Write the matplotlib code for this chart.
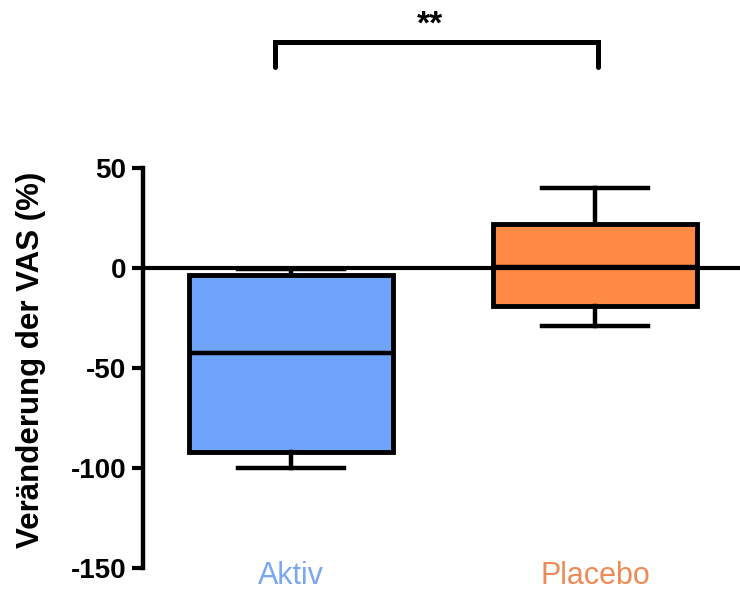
import matplotlib
matplotlib.use("Agg")
import matplotlib.pyplot as plt

# ---------------------------------------------------------
# Daten
# ---------------------------------------------------------
groups = ["Aktiv", "Placebo"]
whisker_low = [-100, -29]
q1 = [-92, -19]
median = [-42.5, 0.5]
q3 = [-3.5, 22]
whisker_high = [-0.5, 40]

box_colors = ["#70A3FA", "#FF8A45"]
label_colors = ["#7AA6F2", "#EE8A55"]

plt.rcParams["font.family"] = ["Liberation Sans", "DejaVu Sans"]

fig = plt.figure(figsize=(7.4, 5.92), dpi=100)
ax = fig.add_axes([0.1932, 0.0405, 0.8068, 0.6757])

stats = []
for i, g in enumerate(groups):
    stats.append({"label": g, "whislo": whisker_low[i], "q1": q1[i],
                  "med": median[i], "q3": q3[i], "whishi": whisker_high[i]})

positions = [1, 2]
ax.axhline(0, color="black", lw=3, zorder=3)
bp = ax.bxp(stats, positions=positions, widths=0.671, capwidths=0.349,
            showfliers=False, patch_artist=True,
            boxprops=dict(linewidth=3.5, edgecolor="black"),
            medianprops=dict(linewidth=3.2, color="black"),
            whiskerprops=dict(linewidth=3.2, color="black"),
            capprops=dict(linewidth=3.2, color="black"))
for patch, c in zip(bp["boxes"], box_colors):
    patch.set_facecolor(c)
    patch.set_zorder(2)

ax.set_xlim(0.513, 2.477)
ax.set_ylim(-150, 50)
ax.set_yticks([-150, -100, -50, 0, 50])
ax.set_yticklabels(["-150", "-100", "-50", "0", "50"], fontsize=20, fontweight="bold")
ax.tick_params(axis="y", length=8, width=3, pad=4)

ax.set_xticks(positions)
ax.set_xticklabels(groups, fontsize=22)
for t, c in zip(ax.get_xticklabels(), label_colors):
    t.set_color(c)
ax.tick_params(axis="x", length=0, pad=-5)

for s in ["top", "right", "bottom"]:
    ax.spines[s].set_visible(False)
ax.spines["left"].set_linewidth(3.2)

ax.set_ylabel("Veränderung der VAS (%)", fontsize=22.5, fontweight="bold")
ax.yaxis.set_label_coords(-0.163, 0.52)

# Signifikanz-Klammer
bx = [0.947, 0.947, 2.01, 2.01]
by = [100.5, 113, 113, 100.5]
ax.plot(bx, by, color="black", lw=3.6, clip_on=False, solid_capstyle="round",
        solid_joinstyle="miter")
ax.text(1.457, 113.5, "**", ha="center", va="bottom", fontsize=24, fontweight="bold",
        clip_on=False)

fig.savefig("out.png", dpi=100)
